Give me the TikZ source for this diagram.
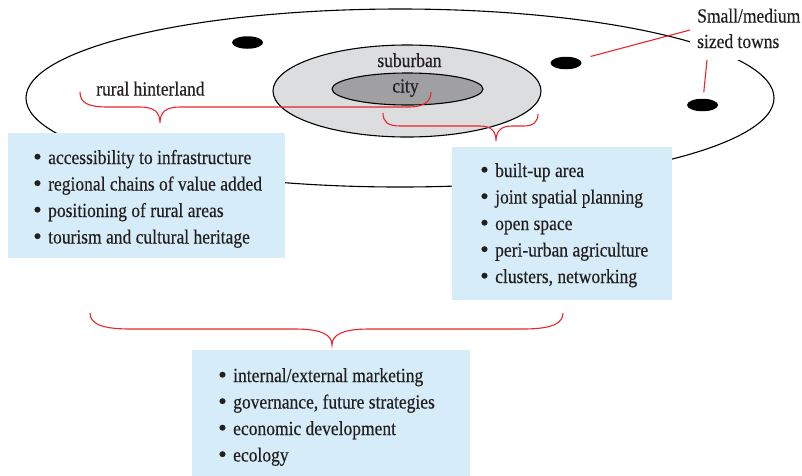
\documentclass[tikz,border=0pt]{standalone}
\usepackage{graphicx}
\usepackage{fontspec}
\setmainfont{Liberation Serif}[FakeStretch=0.875, FakeBold=0.35]
\usetikzlibrary{shapes.geometric,calc}

\definecolor{panelblue}{RGB}{214,236,248}
\definecolor{suburbgray}{RGB}{220,221,223}
\definecolor{citygray}{RGB}{160,160,163}
\definecolor{bracered}{RGB}{232,38,42}
\definecolor{inkdark}{RGB}{35,31,32}

% bullet item with a fixed indent
\newcommand{\bitem}[1]{\makebox[15pt][l]{\raisebox{-0.6pt}{\scalebox{1.4}[1.2]{\textbullet}}}#1}

\tikzset{
  every node/.style={font=\fontsize{20}{26.5}\selectfont, text=inkdark},
  zone/.style={ellipse, draw=black, line width=1.1pt, inner sep=0pt, outer sep=0pt},
  town/.style={ellipse, fill=black, inner sep=0pt, outer sep=0pt,
               minimum width=31pt, minimum height=12.5pt},
  panel/.style={rectangle, fill=panelblue, anchor=north west, inner sep=0pt, outer sep=0pt},
  list/.style={anchor=base west, inner sep=0pt},
  tag/.style={inner sep=0pt},
  brace/.style={draw=bracered, line width=1.1pt},
  leader/.style={draw=bracered, line width=1.1pt}
}

\begin{document}
\begin{tikzpicture}[x=1pt, y=1pt]
  \useasboundingbox (0,0) rectangle (802,-475);

  % regions: hinterland, suburban ring, city core
  \node[zone, minimum width=748pt, minimum height=178pt] (region) at (400,-98) {};
  \node[zone, fill=suburbgray, minimum width=268pt, minimum height=92pt] (suburb) at (407,-91) {};
  \node[zone, fill=citygray, minimum width=151pt, minimum height=32pt] (city) at (407.5,-89) {};

  % small and medium sized towns
  \node[town] (town1) at (247.5,-42.5) {};
  \node[town] (town2) at (566,-63) {};
  \node[town] (town3) at (702.5,-105) {};

  % region labels
  \node[tag, anchor=base] (suburbtxt) at (409.5,-67) {suburban};
  \node[tag, anchor=base] (citytxt) at (405.5,-92.5) {city};
  \node[tag, anchor=base west] (ruraltxt) at (96,-95.5) {rural hinterland};

  % towns label on a white patch
  \node[rectangle, fill=white, anchor=south west, inner sep=0pt, outer sep=0pt,
        minimum width=112pt, minimum height=60pt] (towns) at (690,-60) {};
  \node[list] (townstxt) at (697,-22.5)
    {\begin{tabular}[t]{@{}l@{}}Small/medium\\[-1pt]sized towns\end{tabular}};
  \coordinate (townsfoot) at ($(towns.south west)+(17,0)$);
  \draw[leader, shorten <=12pt] (town2) -- (towns.west);
  \draw[leader, shorten >=6.5pt] (townsfoot) -- (town3);

  % brace over the hinterland
  \draw[brace] (80,-92) .. controls (80,-103) and (88,-107) .. (108,-107)
    -- (140,-107) .. controls (154,-107) and (160,-112) .. (160,-123)
    .. controls (160,-112) and (166,-107) .. (180,-107)
    -- (408,-107) .. controls (425,-107) and (431,-101) .. (431,-92);

  % brace over the suburban ring
  \draw[brace] (383,-113) .. controls (383,-122) and (388,-126) .. (400,-126)
    -- (480,-126) .. controls (491,-126) and (496,-131) .. (496,-141)
    .. controls (496,-131) and (501,-126) .. (512,-126)
    -- (524,-126) .. controls (533,-126) and (538,-122) .. (538,-114);

  % brace over the whole
  \draw[brace] (90,-313) .. controls (90,-323) and (100,-329) .. (130,-329)
    -- (295,-329) .. controls (322,-329) and (332,-335) .. (332,-345)
    .. controls (332,-335) and (342,-329) .. (369,-329)
    -- (523,-329) .. controls (553,-329) and (563,-323) .. (563,-313);

  % topic panels
  \node[panel, minimum width=277pt, minimum height=125pt] (panelrural) at (8,-133) {};
  \node[list] (listrural) at (33,-164) {\begin{tabular}[t]{@{}l@{}}
    \bitem{accessibility to infrastructure}\\
    \bitem{regional chains of value added}\\
    \bitem{positioning of rural areas}\\
    \bitem{tourism and cultural heritage}
  \end{tabular}};

  \node[panel, minimum width=220pt, minimum height=153pt] (panelsuburb) at (452,-147) {};
  \node[list] (listsuburb) at (480,-177) {\begin{tabular}[t]{@{}l@{}}
    \bitem{built-up area}\\
    \bitem{joint spatial planning}\\
    \bitem{open space}\\
    \bitem{peri-urban agriculture}\\
    \bitem{clusters, networking}
  \end{tabular}};

  \node[panel, minimum width=278pt, minimum height=127pt] (panelall) at (192,-350) {};
  \node[list] (listall) at (218,-382) {\begin{tabular}[t]{@{}l@{}}
    \bitem{internal/external marketing}\\
    \bitem{governance, future strategies}\\
    \bitem{economic development}\\
    \bitem{ecology}
  \end{tabular}};
\end{tikzpicture}
\end{document}
